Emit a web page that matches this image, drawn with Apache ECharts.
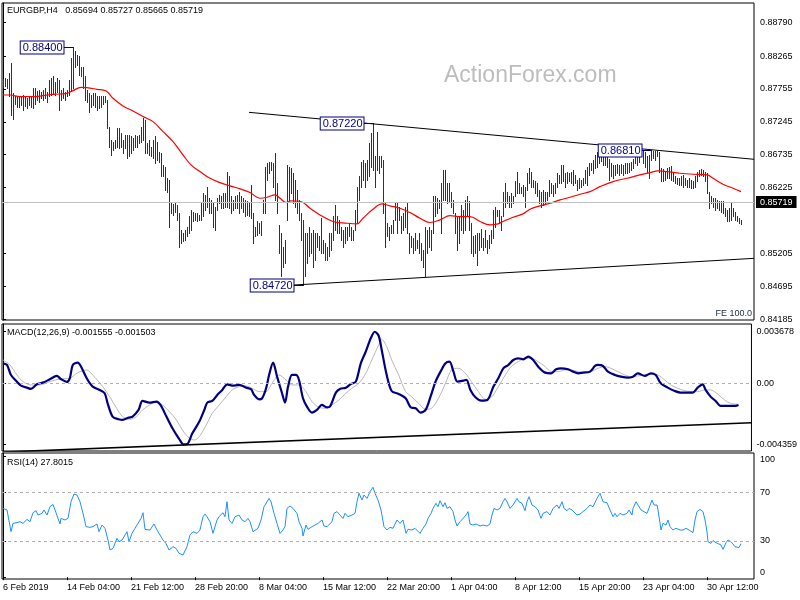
<!DOCTYPE html>
<html><head><meta charset="utf-8">
<script src="https://cdn.jsdelivr.net/npm/echarts@6/dist/echarts.min.js"></script>
<style>html,body{margin:0;padding:0;background:#fff}#c{width:800px;height:600px}</style>
</head><body><div id="c"></div>
<script>
const FONT = '"Liberation Sans", Arial, sans-serif';

// ---- tick labels ----
const xLabels = ['6 Feb 2019','14 Feb 04:00','21 Feb 12:00','28 Feb 20:00','8 Mar 04:00','15 Mar 12:00','22 Mar 20:00','1 Apr 04:00','8 Apr 12:00','15 Apr 20:00','23 Apr 04:00','30 Apr 12:00'];
const xLabelStep = 32; // bars between date labels
const priceTicks = [0.84185,0.84695,0.85205,0.86225,0.86735,0.87245,0.87755,0.88265,0.88790];
const currentPrice = 0.85719;
const macdTicks = [0.003678, 0, -0.004359];
const rsiTicks = [0, 30, 70, 100];
const rsiLevels = [70, 30];

// ---- H4 bars (high / low) ----
const barHigh = [
.8791,.8792,.8791,.8800,.8816,.8769,.8764,.8763,.8764,.8765,
.8766,.8763,.8761,.8764,.8763,.8777,.8777,.8773,.8774,.8771,
.8774,.8777,.8771,.8790,.8792,.8795,.8787,.8792,.8790,.8774,
.8777,.8771,.8774,.8790,.8823,.8840,.8834,.8828,.8826,.8810,
.8810,.8795,.8774,.8769,.8766,.8769,.8769,.8764,.8764,.8764,
.8764,.8764,.8759,.8717,.8697,.8694,.8697,.8715,.8715,.8707,
.8697,.8704,.8704,.8704,.8702,.8699,.8704,.8702,.8704,.8717,
.8730,.8728,.8691,.8697,.8686,.8697,.8702,.8694,.8678,.8676,
.8658,.8655,.8637,.8634,.8598,.8597,.8598,.8596,.8583,.8557,
.8552,.8557,.8562,.8578,.8588,.8585,.8583,.8583,.8580,.8598,
.8614,.8611,.8624,.8606,.8603,.8598,.8593,.8606,.8611,.8609,
.8614,.8614,.8647,.8640,.8609,.8603,.8609,.8611,.8616,.8609,
.8606,.8603,.8601,.8598,.8627,.8583,.8562,.8570,.8567,.8570,
.8603,.8655,.8660,.8663,.8663,.8660,.8676,.8629,.8565,.8552,
.8531,.8541,.8658,.8655,.8653,.8645,.8634,.8619,.8603,.8583,
.8572,.8552,.8552,.8562,.8552,.8557,.8552,.8552,.8547,.8575,
.8541,.8536,.8531,.8552,.8552,.8578,.8596,.8578,.8572,.8562,
.8557,.8562,.8562,.8567,.8562,.8557,.8588,.8624,.8640,.8663,
.8665,.8660,.8665,.8691,.8707,.8722,.8671,.8709,.8671,.8671,
.8665,.8598,.8567,.8562,.8565,.8572,.8598,.8598,.8593,.8578,
.8583,.8593,.8598,.8552,.8547,.8544,.8552,.8541,.8552,.8536,
.8526,.8562,.8557,.8562,.8557,.8609,.8609,.8606,.8603,.8630,
.8650,.8650,.8629,.8629,.8616,.8603,.8583,.8578,.8578,.8596,
.8588,.8603,.8609,.8601,.8567,.8547,.8549,.8552,.8552,.8559,
.8544,.8557,.8541,.8549,.8557,.8588,.8593,.8588,.8588,.8578,
.8616,.8630,.8616,.8609,.8614,.8609,.8632,.8647,.8629,.8624,
.8627,.8624,.8645,.8653,.8647,.8634,.8632,.8629,.8619,.8616,
.8619,.8616,.8616,.8634,.8629,.8627,.8629,.8645,.8642,.8658,
.8658,.8645,.8647,.8645,.8647,.8650,.8642,.8634,.8637,.8634,
.8637,.8650,.8655,.8660,.8660,.8665,.8673,.8678,.8680,.8678,
.8675,.8671,.8672,.8667,.8660,.8658,.8658,.8659,.8658,.8659,
.8658,.8660,.8660,.8661,.8663,.8667,.8676,.8677,.8678,.8680,
.8680,.8678,.8671,.8673,.8681,.8680,.8679,.8680,.8678,.8653,
.8651,.8649,.8653,.8655,.8656,.8645,.8640,.8637,.8638,.8640,
.8642,.8637,.8634,.8637,.8634,.8632,.8640,.8647,.8650,.8651,
.8650,.8647,.8645,.8616,.8609,.8606,.8606,.8603,.8601,.8601,
.8601,.8591,.8588,.8591,.8598,.8591,.8585,.8578,.8575,.85727];
const barLow = [
.8778,.8780,.8777,.8764,.8735,.8729,.8752,.8748,.8747,.8751,
.8743,.8749,.8746,.8751,.8748,.8746,.8753,.8759,.8756,.8761,
.8759,.8761,.8756,.8764,.8766,.8769,.8766,.8771,.8743,.8759,
.8761,.8759,.8764,.8766,.8774,.8777,.8810,.8813,.8797,.8795,
.8777,.8759,.8756,.8740,.8748,.8751,.8748,.8743,.8746,.8748,
.8753,.8756,.8715,.8686,.8673,.8681,.8684,.8686,.8684,.8686,
.8676,.8684,.8668,.8671,.8676,.8681,.8686,.8686,.8691,.8694,
.8697,.8676,.8676,.8673,.8671,.8668,.8660,.8665,.8663,.8640,
.8640,.8619,.8616,.8562,.8583,.8580,.8585,.8572,.8531,.8536,
.8539,.8541,.8547,.8552,.8557,.8570,.8572,.8570,.8572,.8572,
.8578,.8588,.8593,.8583,.8583,.8562,.8557,.8588,.8598,.8591,
.8591,.8593,.8593,.8591,.8583,.8588,.8591,.8591,.8583,.8591,
.8585,.8578,.8580,.8578,.8575,.8536,.8547,.8549,.8552,.8549,
.8583,.8583,.8634,.8645,.8650,.8624,.8603,.8583,.8521,.8485,
.8500,.8505,.8572,.8603,.8614,.8598,.8593,.8583,.8572,.8541,
.8472,.8485,.8505,.8516,.8521,.8500,.8510,.8531,.8526,.8521,
.8521,.8510,.8510,.8516,.8526,.8541,.8557,.8552,.8552,.8541,
.8531,.8536,.8541,.8547,.8541,.8541,.8557,.8567,.8603,.8624,
.8634,.8624,.8634,.8640,.8655,.8650,.8624,.8650,.8645,.8655,
.8583,.8531,.8547,.8541,.8552,.8552,.8572,.8552,.8572,.8552,
.8557,.8562,.8552,.8521,.8531,.8521,.8526,.8528,.8521,.8510,
.8500,.8485,.8521,.8531,.8526,.8552,.8578,.8583,.8591,.8552,
.8603,.8603,.8598,.8601,.8593,.8583,.8552,.8526,.8536,.8557,
.8552,.8557,.8578,.8557,.8521,.8516,.8521,.8503,.8526,.8531,
.8526,.8531,.8521,.8528,.8536,.8544,.8562,.8578,.8567,.8557,
.8578,.8593,.8598,.8593,.8593,.8598,.8609,.8614,.8614,.8614,
.8609,.8593,.8619,.8629,.8624,.8624,.8614,.8609,.8598,.8593,
.8596,.8598,.8603,.8609,.8614,.8609,.8614,.8624,.8629,.8629,
.8632,.8624,.8629,.8632,.8629,.8627,.8629,.8619,.8622,.8624,
.8627,.8629,.8627,.8642,.8650,.8645,.8653,.8655,.8660,.8664,
.8658,.8658,.8655,.8634,.8640,.8637,.8642,.8645,.8642,.8645,
.8642,.8645,.8645,.8647,.8650,.8653,.8660,.8658,.8663,.8671,
.8660,.8655,.8647,.8637,.8665,.8668,.8665,.8671,.8647,.8632,
.8632,.8634,.8637,.8637,.8634,.8632,.8629,.8628,.8627,.8627,
.8624,.8627,.8623,.8624,.8622,.8622,.8624,.8632,.8640,.8642,
.8640,.8632,.8614,.8591,.8598,.8593,.8588,.8591,.8588,.8585,
.8583,.8578,.8570,.8570,.8572,.8578,.8572,.8570,.8568,.85665];

// ---- moving average (red) ----
const maIdx = [0,3.5,8.5,15,20,25,32,35,39,42,47,51.5,55,60,65,70,75,80,85,90,94,98.5,103.5,108.5,113.5,118.5,123.5,128.5,132,136,138.5,141.5,144,148.5,153.5,158.5,165,172,177,180,185,189.5,193.5,198.5,203.5,208.5,213.5,218.5,223.5,228.5,233.5,238.5,243.5,247,250,255,260,263.5,268.5,273.5,278.5,283.5,288.5,293.5,298.5,305,312,318.5,323.5,327.5,332,338.5,345,352,355,360,365,369];
const maVal = [0.87662,0.87662,0.87637,0.87637,0.87652,0.87673,0.87688,0.8773,0.87781,0.87776,0.8775,0.87725,0.87611,0.87492,0.87414,0.87327,0.87249,0.87094,0.86939,0.86732,0.86577,0.86473,0.8637,0.86303,0.86251,0.86205,0.86148,0.8606,0.86075,0.86112,0.8606,0.85993,0.86018,0.86013,0.85905,0.85801,0.85698,0.85672,0.85662,0.8575,0.85889,0.85972,0.85941,0.85905,0.85838,0.8575,0.85683,0.85724,0.85791,0.85775,0.85775,0.85698,0.85646,0.85657,0.85698,0.85765,0.85817,0.85889,0.85941,0.85982,0.86034,0.86075,0.86122,0.86163,0.8624,0.86318,0.8637,0.86422,0.86458,0.86484,0.86473,0.86448,0.86432,0.86422,0.8637,0.86277,0.86215,0.86163];

// ---- price labels & trend lines ----
const priceMarks = [[35,0.88400],[150,0.84720],[185,0.87220],[324,0.86810]];
const upperTrend = [[123,0.87393],[375.5,0.86664]];
const lowerTrend = [[145.5,0.84713],[375.5,0.85127]];
const macdTrend = [[0,-0.00491],[375.5,-0.00282]];

// ---- MACD(12,26,9) ----
const macdMain = [[0,0.001426],[2,0.001307],[4,0.000594],[7,0.000119],[9,-0.000166],[12,-0.000309],[14,-0.000404],[17,-0.000071],[20,0.000048],[23.5,0.000285],[27,0.000523],[29,0.000309],[32,0.000095],[33.5,0.000357],[35,0.001307],[37.5,0.001474],[39,0.001236],[42,0.000357],[45,-0.000238],[48.5,-0.000475],[51,-0.000713],[52.5,-0.001426],[55,-0.002377],[58,-0.002567],[60,-0.002615],[63,-0.002448],[65,-0.002377],[68,-0.001902],[70,-0.00126],[73.5,-0.001379],[77,-0.001307],[79,-0.001545],[82,-0.002377],[85,-0.003209],[88.5,-0.003994],[90.5,-0.004359],[92.5,-0.004326],[95,-0.003566],[98.5,-0.002734],[101,-0.001902],[102.5,-0.001379],[105,-0.00126],[107.5,-0.000832],[110,-0.000475],[112.5,-0.000071],[115,-0.000166],[118.5,-0.000119],[122,-0.000309],[124.5,-0.000428],[126,-0.000832],[128.5,-0.001141],[130,-0.00107],[132,-0.000357],[133.5,0.000594],[135.5,0.001474],[137.5,0.000475],[140,-0.000713],[141.5,-0.001379],[143,-0.000238],[145,0.000594],[147,0.000594],[148.5,0.000238],[150.5,-0.00107],[152.5,-0.001664],[155,-0.002092],[157.5,-0.001902],[160,-0.001545],[162.5,-0.001711],[164,-0.001664],[167,-0.000666],[169,-0.000404],[172,-0.000309],[174.5,-0.000048],[177,0.000119],[179.5,0.001426],[182,0.002258],[184.5,0.003209],[186.5,0.003678],[188.5,0.003375],[190,0.002377],[192.5,0.000594],[195,-0.000547],[198.5,-0.000761],[202,-0.00107],[204.5,-0.001711],[207,-0.001783],[209.5,-0.002092],[212,-0.001902],[214.5,-0.000951],[217,0.000119],[219.5,0.000832],[222,0.001426],[224,0.001545],[226,0.000832],[228,0.000119],[231,0.00019],[232.5,0.000238],[234.5,-0.000475],[237,-0.000998],[240,-0.001236],[243,-0.001189],[246,-0.000238],[248.5,0.000357],[251,0.00107],[253.5,0.001307],[256,0.001664],[258.5,0.001783],[261,0.001711],[263.5,0.001902],[266,0.001664],[268.5,0.001189],[272,0.000761],[275,0.000713],[277.5,0.000998],[280,0.00107],[283.5,0.000998],[286,0.000832],[288.5,0.000713],[291,0.000761],[294.5,0.000832],[297,0.001236],[298.5,0.001307],[301,0.001236],[303.5,0.000832],[307,0.000594],[310,0.000475],[313.5,0.000404],[316,0.000475],[318.5,0.000713],[322,0.000523],[325,0.000713],[327.5,0.000594],[330,0],[333.5,-0.000309],[337,-0.000547],[340,-0.000666],[343.5,-0.000666],[346,-0.000666],[348.5,-0.000309],[351,-0.000071],[352.5,-0.000475],[355,-0.000951],[357.5,-0.00126],[360,-0.001616],[362.5,-0.001616],[365,-0.001616],[367.5,-0.001616],[369,-0.001555]];
const macdSignal = [[0,0.001664],[3.5,0.001307],[7,0.000594],[10,0.000119],[14,-0.000119],[18.5,-0.000119],[23.5,0.000119],[28.5,0.000309],[33.5,0.000357],[37.5,0.000761],[42,0.000951],[45,0.000594],[50,-0.000238],[53.5,-0.000951],[57,-0.001783],[60,-0.002377],[63.5,-0.002567],[67,-0.002377],[70,-0.001902],[73.5,-0.001545],[77,-0.001307],[80,-0.001545],[83.5,-0.00202],[87,-0.002615],[90,-0.003328],[93.5,-0.003922],[96,-0.004041],[98.5,-0.003803],[102,-0.002971],[105,-0.002139],[108.5,-0.001545],[112,-0.000951],[115,-0.000475],[118.5,-0.000238],[122,-0.00019],[125,-0.000357],[128.5,-0.000594],[132,-0.000594],[135,0],[138.5,0.000594],[142,0.000238],[145,-0.000119],[148.5,-0.000119],[152,-0.000594],[155,-0.001307],[158.5,-0.001711],[162,-0.001783],[165,-0.001545],[168.5,-0.001189],[172,-0.000713],[175,-0.000357],[178.5,0],[182,0.000713],[185,0.001664],[188.5,0.002734],[190,0.003138],[192.5,0.002615],[195,0.001664],[198.5,0.000594],[202,-0.000594],[205,-0.000951],[208.5,-0.001426],[212,-0.001854],[215,-0.001783],[218.5,-0.00107],[222,0],[225,0.000951],[228.5,0.00107],[232,0.000713],[235,0.000119],[238.5,-0.000594],[242,-0.001141],[245,-0.000998],[248.5,-0.000238],[252,0.000594],[255,0.001189],[258.5,0.001545],[262,0.001783],[265,0.001783],[268.5,0.001545],[272,0.001189],[275,0.000832],[278.5,0.000832],[282,0.000951],[285,0.000951],[288.5,0.000832],[292,0.000761],[295,0.000832],[298.5,0.00107],[302,0.001189],[305,0.00107],[308.5,0.000832],[312,0.000594],[315,0.000475],[318.5,0.000523],[322,0.000594],[325,0.000666],[328.5,0.000594],[332,0.000238],[335,-0.000119],[338.5,-0.000357],[342,-0.000523],[345,-0.000594],[348.5,-0.000594],[352,-0.000475],[355,-0.000475],[358.5,-0.000761],[362,-0.001189],[365,-0.001426],[369,-0.001503]];

// ---- RSI(14) ----
const rsiLine = [[0,57.0],[2,55.7],[3,57.0],[4,37.7],[5,44.6],[7,45.2],[8.5,46.0],[10,44.6],[12,47.9],[13.5,46.0],[15,53.4],[16.5,55.1],[17.5,51.5],[19.5,52.9],[20.5,55.7],[22,51.5],[23.5,58.4],[25,60.3],[26.5,53.4],[27.5,52.9],[28.5,44.1],[29,48.7],[31,47.4],[32.5,48.7],[34,62.5],[35.5,68.9],[37,68.1],[38.5,62.5],[40,52.9],[41.5,41.9],[43.5,41.3],[45,41.9],[47,44.1],[48,37.7],[49.5,43.2],[51,40.5],[52.5,30.8],[53.5,22.5],[55,23.9],[57,32.2],[58,29.4],[59.5,30.8],[60.5,29.4],[62,37.7],[63,29.4],[64.5,36.3],[66,40.5],[67.5,44.6],[69,48.7],[70,53.4],[71,39.6],[73.5,39.1],[75.5,44.1],[77,39.1],[78,36.3],[80,30.8],[81.5,28.0],[83,22.5],[85,25.3],[86.5,23.9],[88,19.8],[90,18.4],[91,19.8],[92,25.3],[93.5,35.0],[95,37.7],[97,36.3],[98.5,39.1],
[100,50.1],[101,52.3],[102,50.1],[103.5,46.0],[105,36.3],[107,47.4],[108,50.1],[110,53.4],[111,50.1],[112,62.5],[113,47.4],[114.5,44.6],[116,50.1],[118,51.5],[119.5,47.4],[121,46.0],[122.5,48.7],[123.5,46.0],[125,37.7],[126,39.1],[127.5,40.5],[129,47.4],[130.5,58.4],[132,62.5],[133,65.3],[134,62.5],[135.5,52.9],[137,44.6],[138.5,36.3],[140,39.1],[141,41.9],[142,57.0],[143.5,59.0],[145,57.0],[147,52.9],[148,46.0],[149.5,40.5],[150,34.1],[151.5,43.2],[152.5,39.6],[154.5,41.9],[156,43.2],[157.5,44.6],[159.5,47.4],[160.5,42.4],[162,41.9],[163,43.2],[164.5,46.0],[165.5,52.9],[167,54.3],[168.5,51.5],[170,48.7],[171,52.9],[172.5,50.1],[174.5,51.5],[176,52.9],[177,62.5],[178,69.5],[179.5,63.9],[180.5,68.1],[182,65.3],[183.5,70.9],[185,74.5],[186,69.5],[187.5,63.9],[189,55.7],[190.5,41.9],[192,39.1],[193.5,41.3],[195,40.5],[197,47.4],[198.5,44.6],
[200,47.4],[201.5,36.3],[202.5,39.6],[204.5,39.1],[206,40.5],[207,41.9],[208.5,36.3],[210,40.5],[211.5,44.1],[212.5,48.7],[214,52.9],[215,57.0],[216.5,61.2],[217.5,58.4],[218.5,63.4],[220,58.4],[221,61.7],[222,57.0],[223.5,58.4],[225,54.3],[226,47.4],[227,42.4],[228.5,46.0],[230,48.7],[231.5,51.5],[232.5,54.3],[233.5,44.1],[235,43.2],[236.5,44.1],[238.5,42.4],[240,43.2],[242,42.4],[243.5,44.1],[244.5,51.5],[245.5,57.0],[247,55.7],[248.5,57.0],[250,62.5],[251,65.3],[252,62.5],[253.5,57.0],[255,59.8],[257,65.3],[258,62.5],[259.5,61.2],[261,55.1],[262,62.5],[263,66.7],[264.5,59.8],[266,58.4],[267.5,55.7],[269,48.7],[270,52.9],[272,54.3],[273.5,51.5],[275,57.0],[277,59.8],[278,57.0],[279.5,62.5],[280.5,57.0],[282,55.1],[283,57.0],[284.5,55.7],[285.5,57.0],[287,51.5],[288.5,52.3],[290,54.3],[292,57.0],[293.5,59.8],[295,58.4],[297,65.3],[298.5,69.5],
[300,62.5],[302,61.7],[303.5,55.7],[305,50.1],[306,52.9],[307,50.1],[308.5,52.9],[310,51.5],[312,52.9],[313,55.7],[314.5,51.5],[315,57.0],[316.5,62.5],[317.5,63.4],[319,55.7],[320,54.3],[322,52.9],[323,54.3],[324.5,63.9],[325.5,59.8],[327,59.8],[327.5,55.7],[329,39.1],[330,44.6],[331.5,43.2],[332.5,47.4],[333.5,41.9],[335,39.1],[336.5,40.5],[338.5,39.1],[340,39.1],[341.5,40.5],[343,39.1],[345,36.9],[346,47.4],[347,54.3],[348.5,56.2],[350,54.3],[351,47.4],[352,37.7],[352.5,29.4],[354,28.0],[355,30.3],[356.5,28.6],[357.5,29.4],[359,26.7],[360,23.1],[361.5,28.6],[362.5,30.8],[364,29.4],[365,29.4],[366,25.3],[367,23.9],[368,24.5],[369,27.8015]];

// ---- chart ----
const BAR_COLOR = '#0f3a58';
const chart = echarts.init(document.getElementById('c'), null, {renderer:'canvas'});
const panes = [{top:3,height:317},{top:324,height:127},{top:453,height:126}];
const axisText = {fontSize:9, fontFamily:FONT, color:'#000'};
const xTickVals = xLabels.map((_, j) => j * xLabelStep);

const option = {
  animation:false,
  backgroundColor:'#fff',
  textStyle:{fontFamily:FONT},
  grid: panes.map(p => ({left:2, right:46, top:p.top, height:p.height, show:true, borderColor:'#000', borderWidth:1, backgroundColor:'transparent'})),
  xAxis: [0,1,2].map(k => ({
    type:'value', gridIndex:k, min:-0.5, max:375.5,
    axisLine:{show:false}, splitLine:{show:false},
    axisTick: k === 2 ? {show:true, customValues:xTickVals, length:3, lineStyle:{color:'#000'}} : {show:false},
    axisLabel: k === 2 ? Object.assign({show:true, customValues:xTickVals, align:'left', margin:4,
      formatter: v => xLabels[Math.round(v / xLabelStep)] || ''}, axisText) : {show:false}
  })),
  yAxis: [
    {type:'value', gridIndex:0, position:'right', min:0.8417, max:0.8909, scale:true,
     splitLine:{show:false}, axisLine:{show:true, lineStyle:{color:'#000'}},
     axisTick:{show:true, customValues:priceTicks, length:3, lineStyle:{color:'#000'}},
     axisLabel:Object.assign({customValues:priceTicks, margin:6, formatter: v => v.toFixed(5)}, axisText)},
    {type:'value', gridIndex:1, position:'right', min:-0.00483, max:0.00423, scale:true,
     splitLine:{show:false}, axisLine:{show:true, lineStyle:{color:'#000'}},
     axisTick:{show:true, customValues:macdTicks, length:3, lineStyle:{color:'#000'}},
     axisLabel:Object.assign({customValues:macdTicks, margin:5, formatter: v => v === 0 ? '0.00' : v.toFixed(6)}, axisText)},
    {type:'value', gridIndex:2, position:'right', min:-1.5, max:102.9,
     splitLine:{show:false}, axisLine:{show:true, lineStyle:{color:'#000'}},
     axisTick:{show:true, customValues:rsiTicks, length:3, lineStyle:{color:'#000'}},
     axisLabel:Object.assign({customValues:rsiTicks, margin:6,
       formatter: v => v === 100 ? '{t|100}' : (v === 0 ? '{b|0}' : String(v)),
       rich:{t:{padding:[7,0,0,0], fontSize:9, fontFamily:FONT}, b:{padding:[0,0,9,0], fontSize:9, fontFamily:FONT}}}, axisText)}
  ],
  graphic: [
    {type:'text', x:444, y:76, silent:true, style:{text:'ActionForex.com', font:'23px '+FONT, fill:'#bdbdbd', verticalAlign:'middle'}},
    {type:'text', x:7, y:11, style:{text:'EURGBP,H4   0.85694 0.85727 0.85665 0.85719', font:'9px '+FONT, fill:'#000', verticalAlign:'middle'}},
    {type:'text', x:752, y:314, style:{text:'FE 100.0', font:'9px '+FONT, fill:'#1a2a3a', align:'right', verticalAlign:'middle'}},
    {type:'text', x:7, y:333, style:{text:'MACD(12,26,9) -0.001555 -0.001503', font:'9px '+FONT, fill:'#000', verticalAlign:'middle'}},
    {type:'text', x:7, y:462.5, style:{text:'RSI(14) 27.8015', font:'9px '+FONT, fill:'#000', verticalAlign:'middle'}}
  ],
  series: [
    {type:'line', xAxisIndex:0, yAxisIndex:0, data:[], z:1, silent:true,
     markLine:{symbol:'none', silent:true, animation:false,
       lineStyle:{color:'#c0c0c0', width:1, type:'solid'},
       label:{show:true, position:'end', distance:2, formatter: currentPrice.toFixed(5), backgroundColor:'#000', color:'#fff', padding:[2,4,1,4], fontSize:9, fontFamily:FONT},
       data:[{yAxis: currentPrice}]}},
    {type:'custom', xAxisIndex:0, yAxisIndex:0, silent:true, clip:true, z:2,
     data: barHigh.map((h, i) => [i, h, barLow[i]]),
     encode:{x:0, y:[1,2]},
     renderItem: (params, api) => {
       const i = api.value(0);
       const a = api.coord([i, api.value(1)]);
       const b = api.coord([i, api.value(2)]);
       const x = Math.round(a[0] - 0.5);
       const y1 = Math.round(a[1]), y2 = Math.round(b[1]);
       return {type:'rect', shape:{x:x, y:y1, width:1, height:Math.max(1, y2 - y1 + 1)}, style:{fill:BAR_COLOR}};
     }},
    {type:'line', xAxisIndex:0, yAxisIndex:0, data: maIdx.map((x, k) => [x, maVal[k]]), showSymbol:false, smooth:0.4,
     lineStyle:{color:'#ff0000', width:1.2}, silent:true, z:3},
    {type:'line', xAxisIndex:0, yAxisIndex:0, data: upperTrend, showSymbol:false, lineStyle:{color:'#000', width:1}, silent:true, z:4},
    {type:'line', xAxisIndex:0, yAxisIndex:0, data: lowerTrend, showSymbol:false, lineStyle:{color:'#000', width:1}, silent:true, z:4},
    {type:'custom', xAxisIndex:0, yAxisIndex:0, silent:true, clip:false, z:5,
     data: priceMarks, encode:{x:0, y:1},
     renderItem: (params, api) => {
       const p = api.coord([api.value(0), api.value(1)]);
       const x = Math.floor(p[0]) + 0.5, y = Math.round(p[1]) + 0.5;
       return {type:'group', children:[
         {type:'line', shape:{x1:x - 10, y1:y, x2:x, y2:y}, style:{stroke:'#000080', lineWidth:1}},
         {type:'text', x:x - 10, y:y, style:{text: api.value(1).toFixed(5), font:'11px '+FONT, fill:'#000080', align:'right', verticalAlign:'middle',
           backgroundColor:'#fff', borderColor:'#000080', borderWidth:1, padding:[1,1,0,2]}}
       ]};
     }},
    {type:'line', xAxisIndex:1, yAxisIndex:1, data: macdSignal, showSymbol:false, smooth:0.3, lineStyle:{color:'#b8b8b8', width:1}, silent:true,
     markLine:{symbol:'none', silent:true, label:{show:false}, lineStyle:{color:'#b0b0b0', width:1, type:[3,3]}, data:[{yAxis:0}]}},
    {type:'line', xAxisIndex:1, yAxisIndex:1, data: macdMain, showSymbol:false, smooth:0.3, lineStyle:{color:'#000080', width:2.2}, silent:true},
    {type:'line', xAxisIndex:1, yAxisIndex:1, data: macdTrend, showSymbol:false, lineStyle:{color:'#000', width:1.5}, silent:true},
    {type:'line', xAxisIndex:2, yAxisIndex:2, data: rsiLine, showSymbol:false, lineStyle:{color:'#1e90ff', width:1}, silent:true,
     markLine:{symbol:'none', silent:true, label:{show:false}, lineStyle:{color:'#b0b0b0', width:1, type:[3,3]}, data: rsiLevels.map(v => ({yAxis:v}))}}
  ]
};
chart.setOption(option);
</script>
</body></html>
